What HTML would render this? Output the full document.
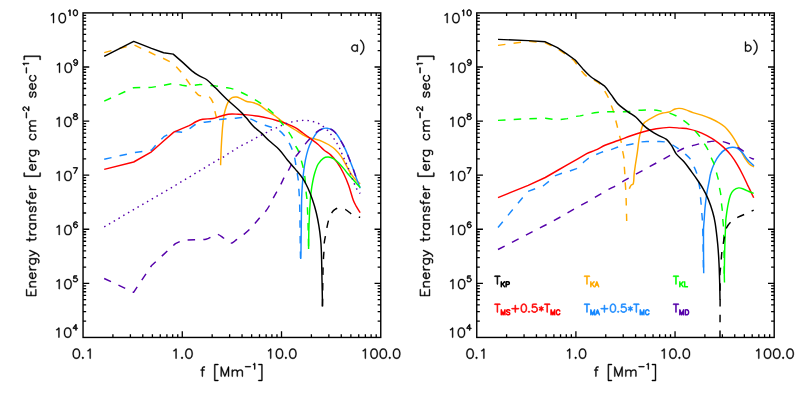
<!DOCTYPE html><html><head><meta charset="utf-8"><title>Energy transfer</title><style>html,body{margin:0;padding:0;background:#fff;font-family:"Liberation Sans",sans-serif}svg{display:block}</style></head><body><svg width="800" height="393" viewBox="0 0 800 393"><defs><path id="g41" d="M3,-26 2.4,-25.8 2,-25 2.2,-24.2 4.6,-21.9 6.1,-19.6 8.1,-15.5 9,-11.1 9,-6.9 8.1,-2.5 6.1,1.6 4.6,3.9 2.2,6.2 2,7 2.4,7.8 3,8 3.8,7.8 5.8,5.8 8,2.4 9.9,-1.4 11,-6.6 11,-11.4 9.9,-16.6 8,-20.4 5.8,-23.8 3.8,-25.8Z"/><path id="g42" d="M8,-16 7.4,-15.8 7,-15 6.9,-10.9 3,-13 2.4,-12.8 2,-12 2.5,-11.1 6,-9 2.5,-6.9 2,-6 2.2,-5.4 3,-5 3.5,-5.1 6.9,-7.1 7,-3 7.2,-2.4 8,-2 8.6,-2.2 9,-3 9.1,-7.1 13,-5 13.6,-5.2 14,-6 13.5,-6.9 10,-9 13.5,-11.1 14,-12 13.8,-12.6 13,-13 12.5,-12.9 9.1,-10.9 9,-15 8.8,-15.6Z"/><path id="g43" d="M13,-19 12.4,-18.8 12,-18 12,-10.1 4,-10 3.4,-9.8 3,-9 3.2,-8.4 4,-8 11.9,-8 12,0 12.2,0.6 13,1 13.6,0.8 14,0 14,-7.9 22,-8 22.6,-8.2 23,-9 22.8,-9.6 22,-10 14.1,-10 14,-18 13.8,-18.6Z"/><path id="g45" d="M3,-9 3.2,-8.4 4,-8 22,-8 22.6,-8.2 23,-9 22.8,-9.6 22,-10 4,-10 3.4,-9.8Z"/><path id="g46" d="M5,-3 4.2,-2.8 3.2,-1.8 3,-1 3.2,-0.2 4.2,0.8 5,1 5.8,0.8 6.8,-0.2 7,-1 6.8,-1.8 5.8,-2.8Z"/><path id="g48" d="M8.6,-22 5.6,-21 3,-17.2 2,-12.4 2,-8.6 3,-3.8 5.1,-0.5 5.6,0 8.6,1 11.4,1 14.4,0 17,-3.8 18,-8.6 18,-12.4 17,-17.2 14.9,-20.5 14.4,-21 11.4,-22ZM9.1,-20 10.9,-20 13.1,-19.2 13.6,-18.9 15.1,-16.5 16,-12.1 16,-8.9 15.1,-4.5 13.4,-1.9 10.9,-1 9.1,-1 6.9,-1.8 6.4,-2.1 4.9,-4.5 4,-8.9 4,-12.1 4.9,-16.5 6.6,-19.1Z"/><path id="g49" d="M11,-22 10.2,-21.8 7.2,-18.8 5.6,-18 5,-17 5.4,-16.2 6,-16 6.6,-16.1 8.4,-17 9.9,-18.4 10,-18.2 10,0 10.2,0.6 11,1 11.6,0.8 12,0 12,-21 11.8,-21.6Z"/><path id="g50" d="M7.4,-21.9 5.2,-20.8 4,-19.4 3,-17 3,-16 3.4,-15.2 4,-15 4.6,-15.2 5,-16 5,-16.8 5.8,-18.2 6.8,-19.2 8.2,-20 11.8,-20 13.2,-19.2 14.2,-18.2 15,-16.8 15,-15.2 14.1,-13.4 12.6,-11.1 2.2,-0.8 2,0 2.4,0.8 3,1 17.4,0.9 17.8,0.6 18,0 17.8,-0.6 17,-1 5.6,-1.1 13.8,-9.2 16,-12.6 17,-15 16.9,-17.6 15.8,-19.8 14.8,-20.8 12,-22Z"/><path id="g52" d="M13,-22 12.1,-21.6 2.1,-7.6 2,-7 2.2,-6.4 3,-6 11.9,-6 12,0 12.2,0.6 13,1 13.6,0.8 14,0 14,-5.9 18,-6 18.6,-6.2 19,-7 18.8,-7.6 18,-8 14,-8.1 14,-21 13.8,-21.6ZM11.9,-17.6 12,-8.1 5.2,-8 5.1,-8.2Z"/><path id="g53" d="M4.6,-21.9 4.2,-21.6 3.9,-20.5 3,-12.6 3.2,-11.4 4,-11 4.8,-11.2 5.9,-12.2 8.1,-13 10.9,-13 13.1,-12.2 15.2,-10.1 16,-7.9 16,-6.1 15.1,-3.6 13.4,-1.9 10.9,-1 8.1,-1 5.6,-1.9 4.8,-2.8 4,-4.4 3,-5 2.2,-4.6 2,-4 2.1,-3.4 3.2,-1.2 4.2,-0.2 7.6,1 11.4,1 14.4,0 17,-2.6 18,-5.6 18,-8.4 17,-11.4 14.4,-14 11.4,-15 7.6,-15 5.4,-14.2 5.2,-14.6 6,-20 15,-20 15.8,-20.4 16,-21 15.6,-21.8 15,-22Z"/><path id="g54" d="M9.6,-22 6.6,-21 4,-17.2 3,-12.4 3,-6.6 4.2,-2.2 6.2,-0.2 9.6,1 11.4,1 14.4,0 16.8,-2.2 18,-5.6 18,-7.4 17,-10.4 14.4,-13 11.4,-14 9.6,-14 6.6,-13 5.1,-11.6 5,-11.8 5.9,-16.5 7.4,-18.9 7.9,-19.2 10.1,-20 11.9,-20 14.1,-19.2 15,-17.6 15.6,-17.1 16.4,-17.1 16.9,-17.6 16.9,-18.6 16,-20.4 15.4,-21 12.4,-22ZM10.1,-12 10.9,-12 13.4,-11.1 15.1,-9.4 16,-6.9 16,-6.1 15.1,-3.6 13.4,-1.9 10.9,-1 10.1,-1 7.6,-1.9 5.9,-3.6 5.1,-6.5 5.1,-7.2 5.9,-9.4 7.6,-11.1Z"/><path id="g55" d="M17.4,-21.9 3,-22 2.4,-21.8 2,-21 2.2,-20.4 3,-20 15.4,-19.9 6.1,-0.5 6.1,0.4 6.6,0.9 7.4,0.9 8,0.2 17.2,-19.1 18,-21 17.8,-21.6Z"/><path id="g56" d="M7.6,-22 4.6,-21 4,-20.4 3.1,-18.6 3.1,-15.4 4,-13.6 4.6,-13 6.1,-12.2 5.2,-11.8 3.2,-9.8 2.1,-7.6 2.1,-3.4 3.2,-1.2 4.6,0 7.6,1 12.4,1 15.8,-0.2 16.8,-1.2 17.9,-3.4 17.9,-7.6 16.8,-9.8 14.8,-11.8 13.9,-12.2 15.4,-13 16,-13.6 16.9,-15.4 16.9,-18.6 16,-20.4 15.4,-21 12.4,-22ZM6.6,-10.1 10,-11.2 13.4,-10.1 15.2,-8.2 16,-6.8 16,-4.2 15.2,-2.8 14.4,-1.9 11.9,-1 8.1,-1 5.6,-1.9 4.8,-2.8 4,-4.2 4,-6.8 4.8,-8.2ZM5,-17.8 5.9,-19.2 8.1,-20 11.9,-20 14.4,-19 15,-17.8 15,-16.2 14,-14.6 12.5,-13.9 10,-13.2 7.5,-13.9 6,-14.6 5,-16.2Z"/><path id="g57" d="M8.6,-22 5.6,-21 3.2,-18.8 2,-15.4 2,-13.6 3,-10.6 5.6,-8 8.6,-7 10.4,-7 13.4,-8 14.9,-9.4 15,-9.2 14.1,-4.5 12.6,-2.1 12.1,-1.8 9.9,-1 8.1,-1 5.9,-1.8 5,-3.4 4.4,-3.9 3.6,-3.9 3.1,-3.4 3.1,-2.4 4,-0.6 4.6,0 7.6,1 10.4,1 13.4,0 16,-3.8 17,-8.6 17,-14.4 15.8,-18.8 13.8,-20.8 10.4,-22ZM9.1,-20 9.9,-20 12.4,-19.1 14.1,-17.4 14.9,-14.5 14.9,-13.8 14.1,-11.6 12.4,-9.9 9.9,-9 9.1,-9 6.6,-9.9 4.9,-11.6 4,-14.1 4,-14.9 4.9,-17.4 6.6,-19.1Z"/><path id="g65" d="M9.4,-21.9 9,-22 8.4,-21.8 7.6,-20.4 0,0 0.2,0.6 0.6,0.9 1.4,0.9 2,0.2 3.9,-4.9 4.5,-6 13.5,-6 13.9,-5.5 16.2,0.6 17,1 17.6,0.8 18,0 17.8,-1 10,-21.2ZM9,-18.1 12.9,-8.1 12.8,-8 5.1,-8.1Z"/><path id="g67" d="M9,-22 6.2,-20.8 4.2,-18.8 3,-16.4 2,-13.4 2,-7.6 3,-4.6 4,-2.6 6.2,-0.2 9,1 13,1 15.8,-0.2 17.8,-2.2 18.9,-4.4 18.9,-5.4 18.6,-5.8 18,-6 17.4,-5.8 16.2,-3.8 14.2,-1.8 12.8,-1 9.2,-1 7.8,-1.8 5.8,-3.8 4.9,-5.5 4,-8.1 4,-12.9 4.9,-15.5 5.8,-17.2 7.8,-19.2 9.2,-20 12.8,-20 14.2,-19.2 16.2,-17.2 17,-15.6 18,-15 18.6,-15.2 19,-16 17.8,-18.8 15.4,-21 13,-22Z"/><path id="g68" d="M3.6,-21.9 3.2,-21.6 3,-21 3.1,0.4 3.4,0.8 4,1 11.4,1 14.4,0 17,-2.6 18,-4.6 19,-7.6 19,-13.4 18,-16.4 16.8,-18.8 14.4,-21 11.4,-22ZM5.1,-20 10.9,-20 13.1,-19.2 15.2,-17.2 16.1,-15.5 17,-12.9 17,-8.1 16.1,-5.5 15.2,-3.8 13.1,-1.8 10.9,-1 5,-1.1Z"/><path id="g69" d="M3.4,-21.8 3,-21 3,0 3.2,0.6 4,1 17,1 17.6,0.8 18,0 17.6,-0.8 17,-1 5,-1.1 5,-9.9 12,-10 12.6,-10.2 13,-11 12.8,-11.6 12,-12 5,-12.1 5,-19.9 17,-20 17.6,-20.2 18,-21 17.8,-21.6 17,-22 4,-22Z"/><path id="g75" d="M3.4,-21.8 3,-21 3,0 3.2,0.6 4,1 4.8,0.6 5,0 5,-6.5 8.9,-10.4 16.9,0.2 18,1 18.6,0.8 19,0 18.8,-0.8 10.4,-11.9 18.8,-20.2 19,-21 18.8,-21.6 18,-22 17.2,-21.8 5.1,-9.6 5,-21 4.8,-21.6 4,-22Z"/><path id="g76" d="M3.4,-21.8 3,-21 3,0 3.2,0.6 4,1 16,1 16.6,0.8 17,0 16.6,-0.8 16,-1 5,-1.1 5,-21 4.8,-21.6 4,-22Z"/><path id="g77" d="M3.4,-21.8 3,-21 3,0 3.2,0.6 4,1 4.8,0.6 5,0 5,-15 5.2,-15 10.9,0 11.4,0.8 12,1 12.6,0.8 13.1,0 18.9,-15.1 19,0 19.2,0.6 20,1 20.6,0.8 21,0 21,-21 20.8,-21.6 20,-22 19.4,-21.8 18.9,-21 12,-2.9 5.1,-21 4.4,-21.9 4,-22Z"/><path id="g80" d="M16.4,-21 13.4,-22 4,-22 3.2,-21.6 3,-21 3,0 3.4,0.8 4,1 4.8,0.6 5,0 5.1,-9 13.4,-9 16.4,-10 18,-11.6 19,-14 19,-17 18,-19.4ZM5,-19.9 12.9,-20 15.4,-19.1 16.2,-18.2 17,-16.8 17,-14.2 16.2,-12.8 15.4,-11.9 12.9,-11 5.1,-11Z"/><path id="g83" d="M7.6,-22 4.6,-21 2.2,-18.8 2,-18 2.1,-15.4 3.2,-13.2 4.6,-12 6.6,-11 12.5,-9.1 14.2,-8.2 15.2,-7.2 16,-5.8 16,-3.5 14.4,-1.9 11.9,-1 8.1,-1 5.9,-1.8 3.8,-3.8 3,-4 2.4,-3.8 2,-3 2.2,-2.2 4.6,0 7.6,1 12.4,1 15.4,0 17.8,-2.2 18,-3 17.9,-6.6 16.8,-8.8 15.4,-10 13.4,-11 7.5,-12.9 5.8,-13.8 4.8,-14.8 4,-16.2 4,-17.5 5.6,-19.1 8.1,-20 11.9,-20 14.1,-19.2 16.2,-17.2 17,-17 17.6,-17.2 18,-18 17.8,-18.8 15.4,-21 12.4,-22Z"/><path id="g84" d="M15,-22 1,-22 0.4,-21.8 0,-21 0.2,-20.4 1,-20 7,-19.9 7,0 7.2,0.6 8,1 8.6,0.8 9,0 9,-19.9 15.4,-20.1 15.8,-20.4 16,-21 15.8,-21.6Z"/><path id="g91" d="M4,-26 3.4,-25.8 3,-25 3,7 3.2,7.6 4,8 11,8 11.6,7.8 12,7 11.8,6.4 11.4,6.1 5,5.9 5,-23.9 11,-24 11.6,-24.2 12,-25 11.8,-25.6 11,-26Z"/><path id="g93" d="M3,-26 2.4,-25.8 2,-25 2.2,-24.4 2.6,-24.1 9,-23.9 9,5.9 3,6 2.4,6.2 2,7 2.2,7.6 3,8 10,8 10.6,7.8 11,7 11,-25 10.8,-25.6 10,-26Z"/><path id="g97" d="M5.2,-13.8 3,-11.4 2,-8.4 2,-5.6 3.2,-2.2 5.2,-0.2 7.4,0.9 11,1 11.6,0.9 13.9,-0.4 14.4,0.8 15,1 15.6,0.8 16,0 16,-14 15.8,-14.6 15,-15 14.4,-14.8 13.9,-13.6 11.6,-14.9 8,-15ZM8.2,-13 10.8,-13 12.2,-12.2 14,-10.5 14,-3.5 12.2,-1.8 10.8,-1 8.2,-1 6.8,-1.8 4.9,-3.6 4,-6.1 4,-7.9 4.9,-10.4 6.8,-12.2Z"/><path id="g98" d="M3.2,-21.6 3,-21 3.1,0.4 3.6,0.9 4.4,0.9 4.8,0.6 5.1,-0.4 7.4,0.9 8,1 11.6,0.9 13.8,-0.2 16,-2.6 17,-5.6 17,-8.4 16,-11.4 13.8,-13.8 11.6,-14.9 8,-15 7.4,-14.9 5.1,-13.6 5,-21 4.6,-21.8 4,-22ZM8.2,-13 10.8,-13 12.2,-12.2 14.1,-10.4 15,-7.9 15,-6.1 14.1,-3.6 12.2,-1.8 10.8,-1 8.2,-1 6.8,-1.8 5,-3.5 5,-10.5 6.8,-12.2Z"/><path id="g99" d="M7.4,-14.9 5.2,-13.8 3,-11.4 2,-8.4 2,-5.6 3,-2.6 5.2,-0.2 8,1 11.6,0.9 13.8,-0.2 15.8,-2.2 16,-3 15.8,-3.6 15,-4 14.2,-3.8 12.2,-1.8 10.8,-1 8.2,-1 6.8,-1.8 4.9,-3.6 4,-6.1 4,-7.9 4.8,-10.1 6.8,-12.2 8.2,-13 10.8,-13 12.2,-12.2 14.2,-10.2 15,-10 15.6,-10.2 16,-11 15.8,-11.8 13.8,-13.8 11.6,-14.9Z"/><path id="g101" d="M7.4,-14.9 5.2,-13.8 3,-11.4 2,-8.4 2,-5.6 3,-2.6 5.2,-0.2 8,1 11.6,0.9 13.8,-0.2 15.8,-2.2 16,-3 15.8,-3.6 15,-4 14.2,-3.8 12.2,-1.8 10.8,-1 8.2,-1 6.8,-1.8 4.9,-3.6 4,-6.1 4,-6.9 15,-7 15.6,-7.2 16,-8 15.9,-10.6 14.8,-12.8 13.4,-14 11,-15ZM4.5,-9.4 4.9,-10.4 6.8,-12.2 8.2,-13 10.8,-13 12.2,-12.2 13.2,-11.2 14,-9.8 13.9,-9 4.6,-9Z"/><path id="g102" d="M10,-22 7.4,-21.9 5.6,-21 5,-20.4 4,-17.4 4,-15.1 1.6,-14.9 1.2,-14.6 1,-14 1.2,-13.4 1.6,-13.1 4,-12.9 4,0 4.2,0.6 5,1 5.6,0.8 6,0 6,-12.9 9,-13 9.6,-13.2 10,-14 9.8,-14.6 9,-15 6.1,-15 6,-16.9 7,-19.4 8.2,-20 10,-20 10.8,-20.4 11,-21 10.6,-21.8Z"/><path id="g103" d="M15,-15 14.2,-14.6 13.9,-13.6 11.6,-14.9 11,-15 7.4,-14.9 5.2,-13.8 3,-11.4 2,-8.4 2,-5.6 3.2,-2.2 5.2,-0.2 8,1 11.6,0.9 13.9,-0.4 14,-0.2 14,1.9 13.1,4.4 12.2,5.2 10.8,6 8.2,6 6,5 5.2,5.4 5,6 5.2,6.6 7.4,7.9 11.6,7.9 13.8,6.8 15,5.4 16,2.4 16,-14 15.8,-14.6ZM8.2,-13 10.8,-13 12.2,-12.2 14,-10.5 14,-3.5 12.2,-1.8 10.8,-1 8.2,-1 6.8,-1.8 4.9,-3.6 4,-6.1 4,-7.9 4.9,-10.4 6.8,-12.2Z"/><path id="g109" d="M3.2,-14.6 3,-14 3,0 3.4,0.8 4,1 4.8,0.6 5,0 5,-9.5 7.8,-12.2 9.2,-13 11.8,-13 13.2,-12.1 14,-9.9 14,0 14.2,0.6 15,1 15.6,0.8 16,0 16,-9.5 18.8,-12.2 20.2,-13 22.8,-13 24,-12.4 25,-9.9 25,0 25.2,0.6 26,1 26.8,0.6 27,0 27,-10.4 26,-13.4 25.4,-14 23,-15 19.4,-14.9 17.2,-13.8 15.5,-12 15,-13.4 14.4,-14 12.6,-14.9 8.4,-14.9 6.2,-13.8 5.1,-12.6 4.8,-14.6 4,-15Z"/><path id="g110" d="M3.4,-14.8 3,-14 3,0 3.2,0.6 4,1 4.8,0.6 5,0 5,-9.5 7.8,-12.2 9.2,-13 11.8,-13 13.2,-12.1 14,-9.9 14,0 14.2,0.6 15,1 15.6,0.8 16,0 16,-10.4 15,-13.4 14.4,-14 12.6,-14.9 9,-15 6.6,-14 5.1,-12.6 4.8,-14.6 4,-15Z"/><path id="g114" d="M12.6,-14.8 12,-15 8.4,-14.9 6.2,-13.8 5.1,-12.6 4.8,-14.6 4,-15 3.2,-14.6 3,-14 3,0 3.4,0.8 4,1 4.8,0.6 5,0 5,-7.9 5.9,-10.4 7.8,-12.2 9.2,-13 12,-13 12.6,-13.2 13,-14Z"/><path id="g115" d="M3.6,-14 3,-13.4 2,-11 3,-8.6 3.6,-8 5.4,-7.1 10.5,-6.1 12,-5.4 13,-3.8 13,-3.2 12.1,-1.8 9.9,-1 7.1,-1 4.9,-1.8 4,-3.4 3,-4 2.4,-3.8 2,-3 3,-0.6 3.6,0 6.6,1 10.4,1 13.4,0 14,-0.6 15,-3 14.9,-4.6 14,-6.4 13.4,-7 11.6,-7.9 6.5,-8.9 5,-9.6 4.1,-11 4.9,-12.2 7.1,-13 9.9,-13 12.1,-12.2 13,-10.6 14,-10 14.6,-10.2 15,-11 14,-13.4 13.4,-14 10.4,-15 6.6,-15Z"/><path id="g116" d="M5,-22 4.4,-21.8 4,-21 4,-15.1 1.6,-14.9 1.2,-14.6 1,-14 1.2,-13.4 1.6,-13.1 4,-12.9 4,-3.6 5,-0.6 5.6,0 7.4,0.9 10,1 10.6,0.8 11,0 10.8,-0.6 10,-1 8.2,-1 7,-1.6 6,-4.1 6,-12.9 9,-13 9.6,-13.2 10,-14 9.8,-14.6 9,-15 6,-15.1 6,-21 5.8,-21.6Z"/><path id="g121" d="M14.6,-14.8 14,-15 13.4,-14.8 13,-14.2 8,-2.6 3,-14.2 2.6,-14.8 2,-15 1.2,-14.6 1,-14 1.2,-13.1 6.9,0 5.2,3.2 3.2,5.2 1.8,6 1,6 0.2,6.4 0,7 0.4,7.8 1,8 2,8 4.4,7 7,4.4 8.9,0.6 14.8,-13.1 15,-14Z"/></defs><rect width="800" height="393" fill="#fff"/><path d="M104.2,52.6 L133.7,44.7 L142.0,48.7 L148.3,51.5 L156.0,55.4 L163.0,58.2 L170.0,61.7 L176.3,66.8 L181.4,72.5 L186.5,79.5 C187.9,81.4 189.2,83.5 190.6,85.4 C192.2,87.6 193.8,89.9 195.5,92.0 C196.5,93.2 197.6,94.5 198.9,95.4 C199.4,95.8 200.2,95.7 200.8,95.8 C202.2,95.9 203.6,95.8 205.0,96.0 C206.4,96.1 208.0,95.8 209.1,96.7 C210.9,98.1 212.0,100.3 212.9,102.4 C214.0,105.0 214.1,107.9 214.8,110.7 C215.3,113.0 215.9,115.4 216.5,117.7" fill="none" stroke="#FFAA00" stroke-width="1.45" stroke-linejoin="round" stroke-dasharray="7.5 8.22"/>
<path d="M220.6,165.3 C220.8,159.6 220.9,153.9 221.2,148.2 C221.5,141.8 221.9,135.5 222.4,129.1 C222.7,125.6 223.0,122.0 223.5,118.5 C223.9,115.9 224.3,113.2 225.0,110.7 C225.9,107.7 226.7,104.6 228.2,101.8 C229.1,100.2 230.4,98.6 232.0,97.7 C233.3,96.9 234.9,96.9 236.4,97.0 C238.0,97.2 239.4,98.0 240.9,98.6 C242.6,99.4 244.2,100.6 246.0,101.2 C248.5,102.0 251.1,102.1 253.6,102.8 C255.6,103.4 257.5,104.0 259.3,105.0 C261.8,106.4 263.9,108.5 266.3,110.1 C268.8,111.9 271.5,113.4 274.0,115.2 C276.1,116.7 278.0,118.3 280.0,119.8 C282.5,121.6 285.0,123.4 287.6,125.1 C290.1,126.8 292.7,128.4 295.3,130.0 C297.8,131.6 300.3,133.4 302.9,134.8 C305.0,135.9 307.1,136.9 309.3,137.7 C311.3,138.4 313.5,138.6 315.6,139.2 C317.8,139.8 319.9,140.4 322.0,141.3 C324.2,142.2 326.3,143.3 328.3,144.5 C330.5,145.9 332.8,147.2 334.7,149.0 C337.1,151.2 339.2,153.7 341.1,156.4 C343.1,159.2 344.5,162.3 346.2,165.3 C347.9,168.3 349.3,171.4 351.2,174.2 C352.7,176.5 354.4,178.5 356.3,180.5 C357.5,181.7 358.9,182.6 360.2,183.7" fill="none" stroke="#FFAA00" stroke-width="1.45" stroke-linejoin="round"/>
<path d="M104.2,159.2 L133.7,152.7 L151.5,150.2 L156.0,144.8 L163.9,136.7 L173.5,131.5 L182.2,132.2 L188.8,129.2 C191.1,127.8 193.0,125.7 195.4,124.5 C197.7,123.4 200.2,123.0 202.7,122.5 C205.2,122.0 207.9,122.0 210.4,121.5 C213.4,121.0 216.3,120.0 219.3,119.5 C221.8,119.1 224.4,118.9 226.9,118.7 C229.4,118.5 232.0,118.5 234.5,118.3 C237.1,118.1 239.6,117.5 242.2,117.6 C244.8,117.7 247.3,118.0 249.8,118.7 C252.5,119.5 254.9,121.0 257.4,122.1 C260.0,123.2 262.5,124.4 265.1,125.3 C267.6,126.2 270.2,126.7 272.7,127.6 C274.9,128.4 277.2,129.1 279.1,130.4 C281.3,131.9 283.2,134.0 284.8,136.1 C286.8,138.7 288.4,141.5 289.9,144.4 C290.8,146.1 291.5,147.8 292.1,149.6 C293.0,152.2 293.9,154.9 294.6,157.6 C295.2,160.1 295.5,162.7 295.9,165.3 C296.3,167.8 296.8,170.4 297.2,172.9 C297.6,175.7 298.1,178.4 298.4,181.2 C298.7,183.7 298.7,186.3 298.8,188.8 C299.0,191.3 299.2,193.9 299.3,196.4 C299.5,200.9 299.7,205.5 299.8,210.0 C300.0,220.0 300.1,230.0 300.2,240.0 C300.3,246.0 300.4,252.0 300.5,258.0" fill="none" stroke="#1688FF" stroke-width="1.45" stroke-linejoin="round" stroke-dasharray="7.5 8.22"/>
<path d="M300.7,258.9 C300.8,255.8 301.0,252.7 301.0,249.6 C301.3,233.1 301.3,216.5 301.6,200.0 C301.7,195.2 302.0,190.4 302.3,185.6 C302.6,181.4 303.0,177.1 303.5,172.9 C304.0,168.7 304.6,164.4 305.4,160.2 C306.1,156.6 306.9,153.1 308.0,149.6 C309.0,146.5 310.3,143.6 311.8,140.7 C313.3,137.8 314.8,134.8 316.9,132.4 C318.2,130.9 320.1,129.8 322.0,129.0 C323.6,128.3 325.4,128.0 327.1,128.2 C328.9,128.4 330.7,128.9 332.2,129.9 C334.2,131.2 335.9,133.1 337.3,135.0 C339.2,137.6 340.7,140.5 342.3,143.3 C343.5,145.4 344.5,147.5 345.5,149.6 C346.9,152.7 348.1,155.8 349.3,158.9 C350.6,162.3 351.9,165.7 353.2,169.1 C354.3,172.0 355.2,175.1 356.3,178.0 C357.6,181.4 358.9,184.8 360.2,188.2" fill="none" stroke="#1688FF" stroke-width="1.45" stroke-linejoin="round"/>
<path d="M104.2,169.4 L133.7,162.0 L151.5,151.8 L163.6,141.0 L173.8,132.1 L181.4,128.9 L189.1,125.7 C191.6,124.5 193.9,122.7 196.4,121.5 C198.4,120.5 200.5,119.6 202.7,119.2 C206.1,118.6 209.5,119.1 212.9,118.5 C215.5,118.1 218.0,116.9 220.5,116.2 C223.1,115.5 225.6,114.5 228.2,114.2 C231.5,113.8 234.9,114.1 238.3,114.2 C241.3,114.3 244.3,114.6 247.3,114.9 C251.1,115.3 254.9,115.7 258.7,116.3 C262.1,116.9 265.5,117.6 268.9,118.4 C272.3,119.2 275.7,120.3 279.1,121.3 C282.0,122.2 284.8,123.0 287.6,124.1 C290.2,125.1 292.9,126.3 295.3,127.7 C298.0,129.3 300.4,131.2 302.9,133.0 C305.5,134.9 308.0,136.8 310.5,138.7 C313.1,140.6 315.7,142.4 318.2,144.5 C320.2,146.2 321.9,148.3 323.9,150.0 C326.1,151.8 328.8,153.1 330.9,155.1 C333.3,157.4 335.4,160.0 337.3,162.7 C339.7,166.1 341.7,169.8 343.6,173.5 C345.6,177.4 347.2,181.5 348.7,185.6 C350.4,190.3 351.5,195.3 353.2,200.0 C354.0,202.2 355.2,204.3 356.3,206.4 C357.5,208.6 358.9,210.6 360.2,212.7" fill="none" stroke="#FF0000" stroke-width="1.45" stroke-linejoin="round"/>
<path d="M104.2,101.1 L133.7,87.7 L151.5,87.4 L163.9,85.2 L173.5,83.4 L182.2,85.2 L188.8,86.4 C190.9,86.4 192.9,85.6 195.0,85.2 C196.7,84.9 198.3,84.5 200.0,84.5 C202.7,84.5 205.3,85.0 208.0,85.2 C210.5,85.4 212.9,85.6 215.4,85.9 C218.3,86.3 221.1,86.8 224.0,87.3 C227.1,87.9 230.3,88.1 233.3,89.1 C238.1,90.8 242.8,93.0 247.3,95.4 C252.1,97.9 256.8,100.6 261.2,103.7 C265.7,106.8 270.0,110.2 274.0,113.9 C276.3,116.0 278.0,118.6 280.0,121.0 C281.1,122.3 282.2,123.5 283.2,124.8 C285.1,127.3 287.1,129.8 288.9,132.4 C290.3,134.5 291.6,136.6 292.7,138.8 C293.9,141.3 294.7,143.9 295.9,146.4 C296.4,147.5 297.3,148.5 297.8,149.6 C298.7,151.7 299.3,153.9 300.0,156.0 C300.6,157.8 301.1,159.7 301.6,161.5 C302.3,164.0 303.0,166.5 303.5,169.1 C304.0,171.6 304.5,174.2 304.8,176.7 C305.1,178.8 305.2,181.0 305.4,183.1 C305.7,186.1 305.8,189.0 306.1,192.0 C306.3,194.5 306.8,197.1 307.0,199.6 C307.4,204.7 307.5,209.9 307.7,215.0 C307.9,220.0 308.1,225.0 308.2,230.0 C308.4,236.3 308.5,242.7 308.6,249.0" fill="none" stroke="#00FF00" stroke-width="1.45" stroke-linejoin="round" stroke-dasharray="7.5 8.22"/>
<path d="M308.6,249.0 C308.7,241.1 308.7,233.3 309.0,225.4 C309.3,216.9 309.7,208.5 310.3,200.0 C310.6,195.6 311.1,191.2 311.8,186.9 C312.5,182.6 313.2,178.4 314.4,174.2 C315.4,170.7 316.4,167.2 318.2,164.0 C319.4,161.8 321.2,159.8 323.3,158.3 C324.7,157.3 326.6,156.9 328.3,157.0 C330.1,157.1 331.8,157.8 333.4,158.7 C335.3,159.8 336.9,161.2 338.5,162.7 C340.3,164.5 342.0,166.5 343.6,168.4 C345.4,170.5 346.9,172.7 348.7,174.8 C350.3,176.7 352.1,178.6 353.8,180.5 C355.9,182.8 358.1,185.2 360.2,187.5" fill="none" stroke="#00FF00" stroke-width="1.45" stroke-linejoin="round"/>
<path d="M104.2,226.8 L171.6,187.6 L218.6,159.4 C220.1,158.5 221.8,158.0 223.3,157.1 C224.9,156.1 226.3,154.9 227.9,153.9 C229.4,152.9 231.0,152.0 232.6,151.0 C234.2,150.0 235.7,148.9 237.3,147.9 C238.9,146.9 240.5,146.1 242.2,145.2 C243.8,144.4 245.4,143.6 247.0,142.8 C248.7,141.9 250.4,141.1 252.0,140.2 C253.6,139.3 255.2,138.3 256.8,137.4 C258.5,136.5 260.2,135.7 261.9,134.8 C263.5,134.0 265.1,133.1 266.7,132.3 C268.4,131.4 270.1,130.5 271.8,129.7 C273.5,128.9 275.2,128.3 276.9,127.6 C278.6,126.9 280.2,126.0 281.9,125.3 C283.5,124.6 285.2,124.0 286.9,123.4 C288.6,122.8 290.3,122.3 292.1,121.9 C293.8,121.5 295.5,121.2 297.2,121.0 C299.1,120.7 301.0,120.5 302.9,120.4 C304.8,120.3 306.7,120.3 308.6,120.6 C310.5,120.9 312.3,121.4 314.1,121.9 C315.8,122.4 317.6,123.0 319.2,123.8 C320.9,124.7 322.4,125.8 323.9,127.0 C325.3,128.1 326.5,129.2 327.7,130.5 C328.9,131.8 330.0,133.2 331.1,134.6 C332.2,136.1 333.3,137.6 334.3,139.2 C335.3,140.7 336.4,142.3 337.3,143.9 C338.2,145.4 339.0,147.0 339.8,148.6 C340.5,150.1 341.0,151.7 341.7,153.2 C342.5,155.1 343.4,157.0 344.2,158.9 C345.7,162.3 347.3,165.7 348.7,169.1 C350.1,172.5 351.1,175.9 352.5,179.3 C353.9,182.7 355.2,186.2 357.0,189.4 C357.8,190.9 359.1,192.1 360.2,193.5" fill="none" stroke="#5500AA" stroke-width="1.45" stroke-linejoin="round" stroke-dasharray="1.5 4.0"/>
<path d="M104.2,278.5 L133.6,292.3 L151.6,265.5 L164.0,254.1 L175.4,243.6 L183.0,240.2 L194.5,239.8 C198.3,239.6 202.2,240.0 206.0,239.2 C208.5,238.7 210.7,237.0 213.0,236.0 C214.4,235.4 215.7,233.9 217.2,234.2 C219.6,234.7 221.5,236.6 223.5,238.0 C225.1,239.2 226.3,241.0 228.0,242.0 C229.2,242.7 230.7,243.4 232.0,243.0 C234.0,242.4 235.2,240.5 236.9,239.3 C239.2,237.6 241.7,236.2 243.9,234.4 C245.9,232.8 247.8,231.2 249.6,229.4 C251.6,227.4 253.4,225.2 255.3,223.0 C256.8,221.2 258.2,219.4 259.8,217.6 C261.6,215.5 263.8,213.7 265.5,211.5 C267.1,209.5 268.4,207.4 269.7,205.2 C271.0,202.9 272.0,200.5 273.2,198.2 C274.4,195.9 275.7,193.6 277.0,191.3 C278.3,189.0 279.6,186.7 280.8,184.4 C282.0,182.1 283.0,179.7 284.2,177.4 C285.5,175.0 287.1,172.8 288.4,170.4 C289.5,168.4 290.5,166.3 291.6,164.2 C292.9,161.8 293.9,159.3 295.4,157.0 C296.7,155.0 298.4,153.2 299.9,151.3 C301.8,148.9 303.5,146.3 305.4,143.9 C307.0,141.9 308.7,140.0 310.5,138.2 C312.6,136.0 314.5,133.7 316.9,131.8 C318.4,130.6 320.2,129.6 322.0,129.0 C323.6,128.4 325.4,128.0 327.1,128.2 C328.9,128.4 330.7,128.9 332.2,129.9 C334.2,131.2 335.9,133.1 337.3,135.0 C339.2,137.6 340.7,140.5 342.3,143.3 C343.5,145.4 344.5,147.5 345.5,149.6 C346.9,152.7 348.1,155.8 349.3,158.9 C350.6,162.3 351.9,165.7 353.2,169.1 C354.3,172.0 355.2,175.0 356.3,178.0 C357.1,180.1 357.9,182.2 358.7,184.3" fill="none" stroke="#5500AA" stroke-width="1.45" stroke-linejoin="round" stroke-dasharray="7.5 8.22"/>
<path d="M322.5,306.3 C322.5,304.2 322.6,302.1 322.6,300.0 C322.7,290.0 322.8,280.0 323.0,270.0 C323.1,266.0 323.3,262.0 323.5,258.0 C323.6,255.3 323.9,252.7 324.0,250.0 C324.1,247.5 324.0,245.1 324.3,242.6 C324.5,240.2 325.1,237.9 325.5,235.6 C326.0,232.6 326.5,229.6 327.1,226.7 C327.6,224.1 328.1,221.6 329.0,219.1 C329.8,216.7 330.9,214.3 332.2,212.1 C332.9,211.0 333.9,210.0 335.0,209.3 C336.0,208.6 337.3,208.1 338.5,207.9 C339.7,207.7 340.9,207.9 342.0,208.2 C343.2,208.5 344.4,208.9 345.5,209.5 C348.0,211.0 350.0,213.2 352.5,214.6 C354.9,215.9 357.6,216.5 360.2,217.4" fill="none" stroke="#000000" stroke-width="1.45" stroke-linejoin="round" stroke-dasharray="7.5 8.22"/>
<path d="M104.2,56.4 L133.7,41.4 L151.5,48.4 L163.6,52.8 L173.2,54.1 L182.7,62.4 L191.6,70.6 C193.9,72.5 196.4,74.2 198.9,75.7 C201.3,77.2 204.2,77.8 206.5,79.5 C209.8,81.9 212.5,85.0 215.4,87.8 C219.7,92.0 223.8,96.4 228.2,100.5 C232.3,104.4 236.8,108.0 240.9,112.0 C242.7,113.7 244.3,115.7 246.0,117.6 C248.6,120.5 250.9,123.7 253.6,126.5 C255.9,128.8 258.8,130.7 261.2,132.9 C263.9,135.3 266.2,138.1 268.9,140.5 C272.2,143.6 276.0,146.1 279.1,149.4 C282.3,152.7 284.7,156.7 287.6,160.2 C290.1,163.2 292.8,166.1 295.3,169.1 C297.9,172.2 300.7,175.2 302.9,178.6 C304.9,181.6 306.5,184.9 308.0,188.2 C309.7,191.9 311.1,195.7 312.4,199.6 C313.9,203.9 315.2,208.3 316.3,212.7 C317.3,216.9 318.1,221.1 318.8,225.4 C319.5,229.6 320.1,233.9 320.5,238.2 C320.9,242.0 321.2,245.8 321.3,249.6 C321.7,259.7 321.8,269.9 322.0,280.0 C322.1,286.5 322.3,293.1 322.4,299.6 C322.4,301.9 322.4,304.2 322.4,306.5" fill="none" stroke="#000000" stroke-width="1.45" stroke-linejoin="round"/>
<rect x="83.05" y="12.90" width="297.70" height="324.55" fill="none" stroke="#000" stroke-width="1.40"/>
<path d="M112.92,337.45v-3.10M112.92,12.90v3.10M130.40,337.45v-3.10M130.40,12.90v3.10M142.79,337.45v-3.10M142.79,12.90v3.10M152.41,337.45v-3.10M152.41,12.90v3.10M160.27,337.45v-3.10M160.27,12.90v3.10M166.91,337.45v-3.10M166.91,12.90v3.10M172.67,337.45v-3.10M172.67,12.90v3.10M177.74,337.45v-3.10M177.74,12.90v3.10M182.28,337.45v-6.20M182.28,12.90v6.20M212.16,337.45v-3.10M212.16,12.90v3.10M229.63,337.45v-3.10M229.63,12.90v3.10M242.03,337.45v-3.10M242.03,12.90v3.10M251.64,337.45v-3.10M251.64,12.90v3.10M259.50,337.45v-3.10M259.50,12.90v3.10M266.15,337.45v-3.10M266.15,12.90v3.10M271.90,337.45v-3.10M271.90,12.90v3.10M276.98,337.45v-3.10M276.98,12.90v3.10M281.52,337.45v-6.20M281.52,12.90v6.20M311.39,337.45v-3.10M311.39,12.90v3.10M328.86,337.45v-3.10M328.86,12.90v3.10M341.26,337.45v-3.10M341.26,12.90v3.10M350.88,337.45v-3.10M350.88,12.90v3.10M358.74,337.45v-3.10M358.74,12.90v3.10M365.38,337.45v-3.10M365.38,12.90v3.10M371.13,337.45v-3.10M371.13,12.90v3.10M376.21,337.45v-3.10M376.21,12.90v3.10M83.05,321.17h3.10M380.75,321.17h-3.10M83.05,311.64h3.10M380.75,311.64h-3.10M83.05,304.88h3.10M380.75,304.88h-3.10M83.05,299.64h3.10M380.75,299.64h-3.10M83.05,295.36h3.10M380.75,295.36h-3.10M83.05,291.74h3.10M380.75,291.74h-3.10M83.05,288.60h3.10M380.75,288.60h-3.10M83.05,285.83h3.10M380.75,285.83h-3.10M83.05,283.36h6.20M380.75,283.36h-6.20M83.05,267.08h3.10M380.75,267.08h-3.10M83.05,257.55h3.10M380.75,257.55h-3.10M83.05,250.79h3.10M380.75,250.79h-3.10M83.05,245.55h3.10M380.75,245.55h-3.10M83.05,241.27h3.10M380.75,241.27h-3.10M83.05,237.65h3.10M380.75,237.65h-3.10M83.05,234.51h3.10M380.75,234.51h-3.10M83.05,231.74h3.10M380.75,231.74h-3.10M83.05,229.27h6.20M380.75,229.27h-6.20M83.05,212.98h3.10M380.75,212.98h-3.10M83.05,203.46h3.10M380.75,203.46h-3.10M83.05,196.70h3.10M380.75,196.70h-3.10M83.05,191.46h3.10M380.75,191.46h-3.10M83.05,187.18h3.10M380.75,187.18h-3.10M83.05,183.55h3.10M380.75,183.55h-3.10M83.05,180.42h3.10M380.75,180.42h-3.10M83.05,177.65h3.10M380.75,177.65h-3.10M83.05,175.17h6.20M380.75,175.17h-6.20M83.05,158.89h3.10M380.75,158.89h-3.10M83.05,149.37h3.10M380.75,149.37h-3.10M83.05,142.61h3.10M380.75,142.61h-3.10M83.05,137.37h3.10M380.75,137.37h-3.10M83.05,133.08h3.10M380.75,133.08h-3.10M83.05,129.46h3.10M380.75,129.46h-3.10M83.05,126.33h3.10M380.75,126.33h-3.10M83.05,123.56h3.10M380.75,123.56h-3.10M83.05,121.08h6.20M380.75,121.08h-6.20M83.05,104.80h3.10M380.75,104.80h-3.10M83.05,95.28h3.10M380.75,95.28h-3.10M83.05,88.52h3.10M380.75,88.52h-3.10M83.05,83.27h3.10M380.75,83.27h-3.10M83.05,78.99h3.10M380.75,78.99h-3.10M83.05,75.37h3.10M380.75,75.37h-3.10M83.05,72.23h3.10M380.75,72.23h-3.10M83.05,69.47h3.10M380.75,69.47h-3.10M83.05,66.99h6.20M380.75,66.99h-6.20M83.05,50.71h3.10M380.75,50.71h-3.10M83.05,41.18h3.10M380.75,41.18h-3.10M83.05,34.43h3.10M380.75,34.43h-3.10M83.05,29.18h3.10M380.75,29.18h-3.10M83.05,24.90h3.10M380.75,24.90h-3.10M83.05,21.28h3.10M380.75,21.28h-3.10M83.05,18.14h3.10M380.75,18.14h-3.10M83.05,15.38h3.10M380.75,15.38h-3.10" stroke="#000" stroke-width="1.3" fill="none"/>
<g transform="translate(83.05,358.30) scale(0.4600,0.4400)" fill="#000" stroke="#000" stroke-linejoin="round"><use href="#g48" x="-24.50" y="0.00" stroke-width="0.90"/><use href="#g46" x="-5.50" y="0.00" stroke-width="0.90"/><use href="#g49" x="4.50" y="0.00" stroke-width="0.90"/></g>
<g transform="translate(182.28,358.30) scale(0.4600,0.4400)" fill="#000" stroke="#000" stroke-linejoin="round"><use href="#g49" x="-24.50" y="0.00" stroke-width="0.90"/><use href="#g46" x="-5.50" y="0.00" stroke-width="0.90"/><use href="#g48" x="4.50" y="0.00" stroke-width="0.90"/></g>
<g transform="translate(281.52,358.30) scale(0.4600,0.4400)" fill="#000" stroke="#000" stroke-linejoin="round"><use href="#g49" x="-34.50" y="0.00" stroke-width="0.90"/><use href="#g48" x="-14.50" y="0.00" stroke-width="0.90"/><use href="#g46" x="4.50" y="0.00" stroke-width="0.90"/><use href="#g48" x="14.50" y="0.00" stroke-width="0.90"/></g>
<g transform="translate(380.75,358.30) scale(0.4600,0.4400)" fill="#000" stroke="#000" stroke-linejoin="round"><use href="#g49" x="-44.50" y="0.00" stroke-width="0.90"/><use href="#g48" x="-24.50" y="0.00" stroke-width="0.90"/><use href="#g48" x="-4.50" y="0.00" stroke-width="0.90"/><use href="#g46" x="14.50" y="0.00" stroke-width="0.90"/><use href="#g48" x="24.50" y="0.00" stroke-width="0.90"/></g>
<g transform="translate(77.70,337.25) scale(0.4600,0.4400)" fill="#000" stroke="#000" stroke-linejoin="round"><use href="#g49" x="-51.78" y="0.00" stroke-width="0.90"/><use href="#g48" x="-31.78" y="0.00" stroke-width="0.90"/><use href="#g52" transform="translate(-11.78,-16.00) scale(0.620)" stroke-width="2.58"/></g>
<g transform="translate(77.70,288.76) scale(0.4600,0.4400)" fill="#000" stroke="#000" stroke-linejoin="round"><use href="#g49" x="-51.16" y="0.00" stroke-width="0.90"/><use href="#g48" x="-31.16" y="0.00" stroke-width="0.90"/><use href="#g53" transform="translate(-11.16,-16.00) scale(0.620)" stroke-width="2.58"/></g>
<g transform="translate(77.70,234.67) scale(0.4600,0.4400)" fill="#000" stroke="#000" stroke-linejoin="round"><use href="#g49" x="-51.16" y="0.00" stroke-width="0.90"/><use href="#g48" x="-31.16" y="0.00" stroke-width="0.90"/><use href="#g54" transform="translate(-11.16,-16.00) scale(0.620)" stroke-width="2.58"/></g>
<g transform="translate(77.70,180.57) scale(0.4600,0.4400)" fill="#000" stroke="#000" stroke-linejoin="round"><use href="#g49" x="-51.16" y="0.00" stroke-width="0.90"/><use href="#g48" x="-31.16" y="0.00" stroke-width="0.90"/><use href="#g55" transform="translate(-11.16,-16.00) scale(0.620)" stroke-width="2.58"/></g>
<g transform="translate(77.70,126.48) scale(0.4600,0.4400)" fill="#000" stroke="#000" stroke-linejoin="round"><use href="#g49" x="-51.16" y="0.00" stroke-width="0.90"/><use href="#g48" x="-31.16" y="0.00" stroke-width="0.90"/><use href="#g56" transform="translate(-11.16,-16.00) scale(0.620)" stroke-width="2.58"/></g>
<g transform="translate(77.70,72.39) scale(0.4600,0.4400)" fill="#000" stroke="#000" stroke-linejoin="round"><use href="#g49" x="-50.54" y="0.00" stroke-width="0.90"/><use href="#g48" x="-30.54" y="0.00" stroke-width="0.90"/><use href="#g57" transform="translate(-10.54,-16.00) scale(0.620)" stroke-width="2.58"/></g>
<g transform="translate(77.70,22.70) scale(0.4600,0.4400)" fill="#000" stroke="#000" stroke-linejoin="round"><use href="#g49" x="-63.56" y="0.00" stroke-width="0.90"/><use href="#g48" x="-43.56" y="0.00" stroke-width="0.90"/><use href="#g49" transform="translate(-23.56,-16.00) scale(0.620)" stroke-width="2.58"/><use href="#g48" transform="translate(-11.16,-16.00) scale(0.620)" stroke-width="2.58"/></g>
<g transform="translate(231.90,376.20) scale(0.4600,0.4400)" fill="#000" stroke="#000" stroke-linejoin="round"><use href="#g102" x="-69.26" y="0.00" stroke-width="0.90"/><use href="#g91" transform="translate(-41.26,1.80) scale(1.000,1.130)" stroke-width="0.90"/><use href="#g77" x="-27.26" y="0.00" stroke-width="0.90"/><use href="#g109" x="-3.26" y="0.00" stroke-width="0.90"/><use href="#g45" transform="translate(26.74,-16.00) scale(0.620)" stroke-width="2.58"/><use href="#g49" transform="translate(42.86,-16.00) scale(0.620)" stroke-width="2.58"/><use href="#g93" transform="translate(55.26,1.80) scale(1.000,1.130)" stroke-width="0.90"/></g>
<g transform="translate(35.85,175.97) rotate(-90) scale(0.4610,0.4400)" fill="#000" stroke="#000" stroke-linejoin="round"><use href="#g69" x="-263.52" y="0.00" stroke-width="0.90"/><use href="#g110" x="-244.52" y="0.00" stroke-width="0.90"/><use href="#g101" x="-225.52" y="0.00" stroke-width="0.90"/><use href="#g114" x="-207.52" y="0.00" stroke-width="0.90"/><use href="#g103" x="-194.52" y="0.00" stroke-width="0.90"/><use href="#g121" x="-175.52" y="0.00" stroke-width="0.90"/><use href="#g116" x="-143.52" y="0.00" stroke-width="0.90"/><use href="#g114" x="-131.52" y="0.00" stroke-width="0.90"/><use href="#g97" x="-118.52" y="0.00" stroke-width="0.90"/><use href="#g110" x="-99.52" y="0.00" stroke-width="0.90"/><use href="#g115" x="-80.52" y="0.00" stroke-width="0.90"/><use href="#g102" x="-63.52" y="0.00" stroke-width="0.90"/><use href="#g101" x="-51.52" y="0.00" stroke-width="0.90"/><use href="#g114" x="-33.52" y="0.00" stroke-width="0.90"/><use href="#g91" transform="translate(-4.52,1.80) scale(1.000,1.130)" stroke-width="0.90"/><use href="#g101" x="9.48" y="0.00" stroke-width="0.90"/><use href="#g114" x="27.48" y="0.00" stroke-width="0.90"/><use href="#g103" x="40.48" y="0.00" stroke-width="0.90"/><use href="#g99" x="75.48" y="0.00" stroke-width="0.90"/><use href="#g109" x="93.48" y="0.00" stroke-width="0.90"/><use href="#g45" transform="translate(123.48,-16.00) scale(0.620)" stroke-width="2.58"/><use href="#g50" transform="translate(139.60,-16.00) scale(0.620)" stroke-width="2.58"/><use href="#g115" x="168.00" y="0.00" stroke-width="0.90"/><use href="#g101" x="185.00" y="0.00" stroke-width="0.90"/><use href="#g99" x="203.00" y="0.00" stroke-width="0.90"/><use href="#g45" transform="translate(221.00,-16.00) scale(0.620)" stroke-width="2.58"/><use href="#g49" transform="translate(237.12,-16.00) scale(0.620)" stroke-width="2.58"/><use href="#g93" transform="translate(249.52,1.80) scale(1.000,1.130)" stroke-width="0.90"/></g>
<g transform="translate(351.35,51.20) scale(0.4600,0.4400)" fill="#000" stroke="#000" stroke-linejoin="round"><use href="#g97" x="-2.00" y="0.00" stroke-width="0.90"/><use href="#g41" x="17.00" y="0.00" stroke-width="0.90"/></g>
<path d="M498.0,45.4 L528.2,41.2 L545.3,42.8 L557.4,48.8 L566.3,54.8 L574.0,60.5 L581.0,70.2 C582.6,72.2 584.1,74.3 586.1,75.9 C588.2,77.5 590.8,78.4 593.1,79.7 C595.2,80.9 597.6,81.8 599.4,83.5 C601.3,85.3 602.5,87.7 603.9,89.9 C605.5,92.4 607.0,94.9 608.3,97.5 C609.4,99.7 610.0,102.2 610.9,104.5 C611.8,107.0 612.9,109.5 613.7,112.1 C614.5,114.6 615.0,117.2 615.6,119.7 C616.2,122.3 616.9,124.8 617.5,127.4 C618.1,129.9 618.8,132.5 619.4,135.0 C620.0,137.5 620.8,140.0 621.3,142.6 C621.8,145.3 622.1,148.1 622.6,150.8 C623.0,153.1 623.6,155.4 623.9,157.8 C624.2,160.6 624.1,163.3 624.3,166.1 C624.4,168.6 624.7,171.2 624.8,173.7 C625.0,176.5 625.0,179.2 625.2,182.0 C625.3,184.5 625.6,187.0 625.7,189.5 C625.9,192.3 626.0,195.0 626.1,197.8 C626.2,200.3 626.2,202.9 626.3,205.4 C626.4,208.0 626.4,210.7 626.5,213.3 C626.6,215.9 626.6,218.4 626.7,221.0" fill="none" stroke="#FFAA00" stroke-width="1.45" stroke-linejoin="round" stroke-dasharray="7.5 8.22"/>
<path d="M629.3,188.7 C629.9,187.5 630.3,186.2 631.2,185.1 C631.7,184.5 633.1,184.6 633.3,183.8 C634.1,180.8 633.8,177.5 634.1,174.4 C634.4,171.4 634.9,168.4 635.3,165.4 C635.9,161.2 636.7,156.9 637.3,152.7 C638.0,147.9 638.4,143.0 639.2,138.2 C639.6,135.6 640.3,133.0 641.1,130.5 C641.8,128.1 642.2,125.5 643.6,123.5 C644.8,121.8 646.9,120.8 648.7,119.7 C651.2,118.1 653.7,116.6 656.3,115.3 C658.3,114.3 660.5,113.6 662.7,113.0 C664.8,112.5 667.0,112.7 669.1,112.0 C671.2,111.3 673.0,109.7 675.1,109.0 C676.5,108.5 678.0,108.3 679.5,108.4 C681.5,108.5 683.4,109.0 685.3,109.6 C687.9,110.4 690.3,111.7 692.9,112.6 C695.8,113.6 698.9,114.1 701.8,115.1 C704.8,116.1 707.8,117.2 710.7,118.5 C713.3,119.7 715.9,120.9 718.3,122.4 C720.5,123.7 722.8,125.1 724.7,126.8 C726.6,128.5 728.2,130.5 729.8,132.5 C731.4,134.5 732.8,136.7 734.2,138.9 C735.4,140.7 736.3,142.7 737.4,144.6 C738.5,146.5 739.5,148.4 740.6,150.3 C742.1,153.0 743.4,155.9 745.1,158.5 C746.4,160.5 747.7,162.6 749.5,164.3 C750.8,165.5 752.5,166.0 754.0,166.8" fill="none" stroke="#FFAA00" stroke-width="1.45" stroke-linejoin="round"/>
<path d="M498.0,227.5 L527.6,191.5 L535.2,188.7 L543.4,185.7 L549.2,181.2 L555.5,175.6 L561.9,173.3 L569.5,171.2 L576.5,168.6 L582.9,162.9 C585.0,161.1 586.9,159.2 589.2,157.8 C591.3,156.5 593.6,155.7 595.9,154.7 C598.2,153.7 600.5,152.6 602.9,151.8 C605.4,151.0 608.0,150.6 610.5,149.8 C613.1,149.0 615.6,147.8 618.2,147.0 C620.7,146.3 623.3,145.8 625.8,145.3 C628.3,144.8 630.9,144.4 633.4,143.8 C636.0,143.2 638.5,142.3 641.1,141.9 C643.8,141.5 646.6,141.6 649.3,141.5 C652.1,141.4 654.8,141.4 657.6,141.5 C659.9,141.6 662.3,141.4 664.6,141.9 C667.0,142.4 669.4,143.4 671.6,144.5 C674.1,145.7 676.3,147.3 678.6,148.9 C680.9,150.5 683.2,152.2 685.3,154.1 C687.1,155.7 689.0,157.2 690.4,159.2 C691.8,161.1 692.5,163.4 693.5,165.5 C694.6,168.0 695.9,170.5 696.7,173.2 C697.6,176.1 698.0,179.1 698.6,182.1 C699.1,184.4 699.6,186.6 699.9,188.9 C700.2,191.7 700.3,194.4 700.5,197.2 C700.7,199.7 701.0,202.3 701.2,204.8 C701.4,207.6 701.6,210.3 701.8,213.1 C702.0,215.6 702.3,218.2 702.4,220.7 C702.7,227.1 702.9,233.6 703.0,240.0 C703.2,251.0 703.3,262.0 703.5,273.0" fill="none" stroke="#1688FF" stroke-width="1.45" stroke-linejoin="round" stroke-dasharray="7.5 8.22"/>
<path d="M703.7,273.3 C703.6,258.7 703.4,244.2 703.5,229.6 C703.5,226.6 703.9,223.7 704.1,220.7 C704.4,216.5 704.6,212.2 705.0,208.0 C705.5,202.9 706.1,197.8 706.9,192.7 C707.6,188.4 708.6,184.2 709.4,180.0 C709.8,177.7 710.0,175.4 710.7,173.2 C711.7,169.7 712.9,166.3 714.5,163.0 C715.9,160.1 717.5,157.2 719.6,154.7 C721.4,152.5 723.5,150.4 726.0,149.0 C727.9,147.9 730.1,147.4 732.3,147.3 C734.0,147.2 735.9,147.6 737.4,148.4 C739.4,149.5 741.0,151.1 742.5,152.8 C744.4,155.0 745.7,157.6 747.6,159.8 C749.5,162.0 751.9,163.8 754.0,165.8" fill="none" stroke="#1688FF" stroke-width="1.45" stroke-linejoin="round"/>
<path d="M498.0,197.6 L528.2,185.3 L545.3,177.5 L557.4,170.5 L567.6,164.6 L577.8,158.8 L586.7,153.7 C589.5,152.3 592.5,151.5 595.3,150.2 C598.8,148.6 602.1,146.5 605.6,145.0 C609.7,143.3 614.0,142.0 618.2,140.5 C622.4,139.0 626.6,137.3 630.9,135.8 C635.1,134.3 639.3,132.9 643.6,131.7 C647.8,130.5 652.0,129.5 656.3,128.8 C660.5,128.1 664.8,127.5 669.1,127.4 C672.8,127.3 676.5,127.8 680.2,128.1 C683.2,128.4 686.2,128.5 689.1,129.1 C692.1,129.7 695.1,130.5 698.0,131.6 C701.1,132.7 704.0,134.2 706.9,135.7 C709.5,137.1 712.1,138.5 714.5,140.2 C717.6,142.3 720.6,144.6 723.4,147.1 C726.2,149.6 728.8,152.4 731.1,155.4 C733.4,158.4 735.5,161.6 737.4,164.9 C739.5,168.4 741.4,172.1 743.2,175.7 C744.7,178.6 746.0,181.6 747.4,184.6 C748.1,186.0 748.8,187.5 749.5,188.9 C750.9,191.9 752.3,194.8 753.7,197.8" fill="none" stroke="#FF0000" stroke-width="1.45" stroke-linejoin="round"/>
<path d="M498.0,120.4 L527.6,118.7 L545.4,118.3 L557.8,120.0 L567.4,118.6 L576.1,116.4 L580.0,115.9 C583.9,115.1 587.6,114.1 591.5,113.4 C594.0,112.9 596.5,112.6 599.0,112.3 C601.6,112.0 604.1,111.9 606.7,111.8 C609.3,111.7 611.8,111.8 614.4,111.8 C616.9,111.8 619.5,111.8 622.0,111.8 C624.8,111.7 627.5,111.7 630.3,111.5 C632.8,111.3 635.4,110.7 637.9,110.4 C640.7,110.1 643.4,110.0 646.2,109.9 C648.7,109.8 651.3,109.7 653.8,109.9 C656.4,110.1 658.9,110.7 661.4,111.2 C663.9,111.7 666.5,112.1 669.0,112.9 C671.5,113.7 674.0,114.8 676.4,116.0 C678.8,117.3 681.1,118.8 683.4,120.4 C685.6,121.9 687.7,123.5 689.7,125.3 C691.7,127.2 693.6,129.2 695.4,131.3 C697.0,133.0 698.5,134.8 699.9,136.7 C701.3,138.6 702.5,140.6 703.7,142.6 C705.2,145.1 706.9,147.6 708.2,150.3 C709.4,152.8 710.2,155.4 711.3,157.9 C712.3,160.3 713.7,162.5 714.5,164.9 C715.4,167.4 715.7,170.0 716.4,172.5 C717.0,174.8 717.8,177.1 718.3,179.5 C718.9,182.4 719.1,185.4 719.6,188.3 C720.0,190.6 720.6,192.9 720.9,195.3 C721.2,198.0 721.2,200.8 721.5,203.5 C721.7,206.1 722.2,208.6 722.4,211.2 C722.6,213.9 722.6,216.7 722.8,219.4 C723.0,221.7 723.3,224.1 723.4,226.4 C723.7,234.3 723.9,242.1 724.0,250.0 C724.2,260.7 724.2,271.3 724.3,282.0" fill="none" stroke="#00FF00" stroke-width="1.45" stroke-linejoin="round" stroke-dasharray="7.5 8.22"/>
<path d="M724.5,282.5 C724.4,279.9 724.3,277.2 724.3,274.6 C724.4,266.5 724.5,258.5 724.7,250.4 C724.9,241.9 725.3,233.5 725.6,225.0 C725.7,222.7 725.7,220.5 726.0,218.2 C726.5,213.9 727.1,209.6 727.9,205.4 C728.6,202.0 729.2,198.5 730.4,195.3 C731.1,193.4 732.1,191.5 733.6,190.2 C735.0,189.0 736.8,188.1 738.7,187.9 C740.4,187.7 742.1,188.6 743.8,189.2 C745.6,189.8 747.2,190.8 748.9,191.5 C750.5,192.2 752.1,192.8 753.7,193.4" fill="none" stroke="#00FF00" stroke-width="1.45" stroke-linejoin="round"/>
<path d="M498.0,249.5 L532.6,231.6 L546.6,224.5 L560.6,216.9 L574.0,209.0 L588.0,201.4 C594.9,197.5 601.7,193.3 608.6,189.4 C610.9,188.1 613.3,187.1 615.6,185.8 C620.1,183.3 624.5,180.5 629.0,177.9 C633.6,175.3 638.3,172.8 643.0,170.3 C647.7,167.7 652.3,165.2 657.0,162.6 C661.7,160.1 666.3,157.5 671.0,155.0 C673.2,153.8 675.4,152.7 677.6,151.5 C679.3,150.6 680.9,149.4 682.7,148.7 C685.8,147.5 689.1,146.7 692.3,145.8 C694.8,145.1 697.4,144.3 699.9,143.7 C702.4,143.1 704.9,142.4 707.5,142.0 C710.0,141.6 712.6,141.2 715.2,141.1 C717.7,141.0 720.3,141.1 722.8,141.6 C725.4,142.1 727.9,143.2 730.4,144.2 C733.0,145.2 735.6,146.4 738.1,147.7 C740.1,148.8 742.1,150.0 743.8,151.5 C745.9,153.2 747.3,155.7 749.5,157.3 C750.8,158.3 752.5,158.6 754.0,159.2" fill="none" stroke="#5500AA" stroke-width="1.45" stroke-linejoin="round" stroke-dasharray="7.5 8.22"/>
<path d="M720.0,338.0 C720.0,325.3 720.1,312.7 720.1,300.0 C720.1,295.0 720.1,290.0 720.1,285.0 C720.1,281.5 719.8,278.1 719.9,274.6 C720.0,272.1 720.4,269.5 720.6,267.0 C720.8,264.2 721.1,261.5 721.3,258.7 C721.5,256.4 721.6,254.0 721.9,251.7 C722.3,248.7 722.9,245.8 723.4,242.8 C723.8,240.5 724.2,238.1 724.7,235.8 C725.3,233.1 725.5,230.2 726.6,227.7 C727.6,225.4 729.3,223.4 731.1,221.7 C733.1,219.8 735.7,218.5 738.1,217.2 C740.3,216.0 742.8,215.1 745.1,214.1 C748.0,212.8 750.8,211.5 753.7,210.2" fill="none" stroke="#000000" stroke-width="1.45" stroke-linejoin="round" stroke-dasharray="7.5 8.22"/>
<path d="M498.0,39.4 L528.2,40.6 L545.3,41.8 L557.4,47.6 L566.3,53.6 L575.2,60.0 L582.9,68.9 C585.3,71.5 587.7,74.2 590.5,76.5 C592.9,78.5 595.7,79.9 598.2,81.6 C600.3,83.1 602.7,84.3 604.5,86.1 C607.0,88.6 608.8,91.6 610.9,94.4 C613.1,97.3 615.0,100.5 617.3,103.3 C618.3,104.5 619.5,105.4 620.7,106.4 C623.2,108.4 625.7,110.3 628.3,112.1 C630.8,113.9 633.7,115.2 636.0,117.2 C638.8,119.6 640.9,122.9 643.6,125.4 C645.9,127.6 648.5,129.4 651.2,131.2 C653.7,132.8 656.3,134.2 658.9,135.6 C661.4,136.9 664.3,137.6 666.5,139.4 C668.6,141.1 670.1,143.5 671.6,145.7 C673.4,148.4 674.4,151.6 676.4,154.1 C678.6,156.9 681.7,159.0 684.0,161.7 C686.8,164.9 689.1,168.5 691.6,171.9 C693.6,174.6 695.5,177.2 697.4,180.0 C699.4,182.9 701.4,185.8 703.1,188.9 C705.0,192.2 706.7,195.6 708.2,199.1 C709.9,203.2 711.4,207.5 712.6,211.8 C713.7,215.6 714.6,219.4 715.2,223.3 C716.3,230.2 717.0,237.1 717.7,244.1 C718.3,250.5 718.7,256.8 719.0,263.2 C719.3,268.8 719.4,274.4 719.6,280.0 C719.8,286.5 719.9,293.0 720.0,299.5" fill="none" stroke="#000000" stroke-width="1.45" stroke-linejoin="round"/>
<rect x="476.75" y="12.90" width="297.45" height="324.55" fill="none" stroke="#000" stroke-width="1.40"/>
<path d="M506.60,337.45v-3.10M506.60,12.90v3.10M524.06,337.45v-3.10M524.06,12.90v3.10M536.44,337.45v-3.10M536.44,12.90v3.10M546.05,337.45v-3.10M546.05,12.90v3.10M553.90,337.45v-3.10M553.90,12.90v3.10M560.54,337.45v-3.10M560.54,12.90v3.10M566.29,337.45v-3.10M566.29,12.90v3.10M571.36,337.45v-3.10M571.36,12.90v3.10M575.90,337.45v-6.20M575.90,12.90v6.20M605.75,337.45v-3.10M605.75,12.90v3.10M623.21,337.45v-3.10M623.21,12.90v3.10M635.59,337.45v-3.10M635.59,12.90v3.10M645.20,337.45v-3.10M645.20,12.90v3.10M653.05,337.45v-3.10M653.05,12.90v3.10M659.69,337.45v-3.10M659.69,12.90v3.10M665.44,337.45v-3.10M665.44,12.90v3.10M670.51,337.45v-3.10M670.51,12.90v3.10M675.05,337.45v-6.20M675.05,12.90v6.20M704.90,337.45v-3.10M704.90,12.90v3.10M722.36,337.45v-3.10M722.36,12.90v3.10M734.74,337.45v-3.10M734.74,12.90v3.10M744.35,337.45v-3.10M744.35,12.90v3.10M752.20,337.45v-3.10M752.20,12.90v3.10M758.84,337.45v-3.10M758.84,12.90v3.10M764.59,337.45v-3.10M764.59,12.90v3.10M769.66,337.45v-3.10M769.66,12.90v3.10M476.75,321.17h3.10M774.20,321.17h-3.10M476.75,311.64h3.10M774.20,311.64h-3.10M476.75,304.88h3.10M774.20,304.88h-3.10M476.75,299.64h3.10M774.20,299.64h-3.10M476.75,295.36h3.10M774.20,295.36h-3.10M476.75,291.74h3.10M774.20,291.74h-3.10M476.75,288.60h3.10M774.20,288.60h-3.10M476.75,285.83h3.10M774.20,285.83h-3.10M476.75,283.36h6.20M774.20,283.36h-6.20M476.75,267.08h3.10M774.20,267.08h-3.10M476.75,257.55h3.10M774.20,257.55h-3.10M476.75,250.79h3.10M774.20,250.79h-3.10M476.75,245.55h3.10M774.20,245.55h-3.10M476.75,241.27h3.10M774.20,241.27h-3.10M476.75,237.65h3.10M774.20,237.65h-3.10M476.75,234.51h3.10M774.20,234.51h-3.10M476.75,231.74h3.10M774.20,231.74h-3.10M476.75,229.27h6.20M774.20,229.27h-6.20M476.75,212.98h3.10M774.20,212.98h-3.10M476.75,203.46h3.10M774.20,203.46h-3.10M476.75,196.70h3.10M774.20,196.70h-3.10M476.75,191.46h3.10M774.20,191.46h-3.10M476.75,187.18h3.10M774.20,187.18h-3.10M476.75,183.55h3.10M774.20,183.55h-3.10M476.75,180.42h3.10M774.20,180.42h-3.10M476.75,177.65h3.10M774.20,177.65h-3.10M476.75,175.17h6.20M774.20,175.17h-6.20M476.75,158.89h3.10M774.20,158.89h-3.10M476.75,149.37h3.10M774.20,149.37h-3.10M476.75,142.61h3.10M774.20,142.61h-3.10M476.75,137.37h3.10M774.20,137.37h-3.10M476.75,133.08h3.10M774.20,133.08h-3.10M476.75,129.46h3.10M774.20,129.46h-3.10M476.75,126.33h3.10M774.20,126.33h-3.10M476.75,123.56h3.10M774.20,123.56h-3.10M476.75,121.08h6.20M774.20,121.08h-6.20M476.75,104.80h3.10M774.20,104.80h-3.10M476.75,95.28h3.10M774.20,95.28h-3.10M476.75,88.52h3.10M774.20,88.52h-3.10M476.75,83.27h3.10M774.20,83.27h-3.10M476.75,78.99h3.10M774.20,78.99h-3.10M476.75,75.37h3.10M774.20,75.37h-3.10M476.75,72.23h3.10M774.20,72.23h-3.10M476.75,69.47h3.10M774.20,69.47h-3.10M476.75,66.99h6.20M774.20,66.99h-6.20M476.75,50.71h3.10M774.20,50.71h-3.10M476.75,41.18h3.10M774.20,41.18h-3.10M476.75,34.43h3.10M774.20,34.43h-3.10M476.75,29.18h3.10M774.20,29.18h-3.10M476.75,24.90h3.10M774.20,24.90h-3.10M476.75,21.28h3.10M774.20,21.28h-3.10M476.75,18.14h3.10M774.20,18.14h-3.10M476.75,15.38h3.10M774.20,15.38h-3.10" stroke="#000" stroke-width="1.3" fill="none"/>
<g transform="translate(476.75,358.30) scale(0.4600,0.4400)" fill="#000" stroke="#000" stroke-linejoin="round"><use href="#g48" x="-24.50" y="0.00" stroke-width="0.90"/><use href="#g46" x="-5.50" y="0.00" stroke-width="0.90"/><use href="#g49" x="4.50" y="0.00" stroke-width="0.90"/></g>
<g transform="translate(575.90,358.30) scale(0.4600,0.4400)" fill="#000" stroke="#000" stroke-linejoin="round"><use href="#g49" x="-24.50" y="0.00" stroke-width="0.90"/><use href="#g46" x="-5.50" y="0.00" stroke-width="0.90"/><use href="#g48" x="4.50" y="0.00" stroke-width="0.90"/></g>
<g transform="translate(675.05,358.30) scale(0.4600,0.4400)" fill="#000" stroke="#000" stroke-linejoin="round"><use href="#g49" x="-34.50" y="0.00" stroke-width="0.90"/><use href="#g48" x="-14.50" y="0.00" stroke-width="0.90"/><use href="#g46" x="4.50" y="0.00" stroke-width="0.90"/><use href="#g48" x="14.50" y="0.00" stroke-width="0.90"/></g>
<g transform="translate(774.20,358.30) scale(0.4600,0.4400)" fill="#000" stroke="#000" stroke-linejoin="round"><use href="#g49" x="-44.50" y="0.00" stroke-width="0.90"/><use href="#g48" x="-24.50" y="0.00" stroke-width="0.90"/><use href="#g48" x="-4.50" y="0.00" stroke-width="0.90"/><use href="#g46" x="14.50" y="0.00" stroke-width="0.90"/><use href="#g48" x="24.50" y="0.00" stroke-width="0.90"/></g>
<g transform="translate(471.40,337.25) scale(0.4600,0.4400)" fill="#000" stroke="#000" stroke-linejoin="round"><use href="#g49" x="-51.78" y="0.00" stroke-width="0.90"/><use href="#g48" x="-31.78" y="0.00" stroke-width="0.90"/><use href="#g52" transform="translate(-11.78,-16.00) scale(0.620)" stroke-width="2.58"/></g>
<g transform="translate(471.40,288.76) scale(0.4600,0.4400)" fill="#000" stroke="#000" stroke-linejoin="round"><use href="#g49" x="-51.16" y="0.00" stroke-width="0.90"/><use href="#g48" x="-31.16" y="0.00" stroke-width="0.90"/><use href="#g53" transform="translate(-11.16,-16.00) scale(0.620)" stroke-width="2.58"/></g>
<g transform="translate(471.40,234.67) scale(0.4600,0.4400)" fill="#000" stroke="#000" stroke-linejoin="round"><use href="#g49" x="-51.16" y="0.00" stroke-width="0.90"/><use href="#g48" x="-31.16" y="0.00" stroke-width="0.90"/><use href="#g54" transform="translate(-11.16,-16.00) scale(0.620)" stroke-width="2.58"/></g>
<g transform="translate(471.40,180.57) scale(0.4600,0.4400)" fill="#000" stroke="#000" stroke-linejoin="round"><use href="#g49" x="-51.16" y="0.00" stroke-width="0.90"/><use href="#g48" x="-31.16" y="0.00" stroke-width="0.90"/><use href="#g55" transform="translate(-11.16,-16.00) scale(0.620)" stroke-width="2.58"/></g>
<g transform="translate(471.40,126.48) scale(0.4600,0.4400)" fill="#000" stroke="#000" stroke-linejoin="round"><use href="#g49" x="-51.16" y="0.00" stroke-width="0.90"/><use href="#g48" x="-31.16" y="0.00" stroke-width="0.90"/><use href="#g56" transform="translate(-11.16,-16.00) scale(0.620)" stroke-width="2.58"/></g>
<g transform="translate(471.40,72.39) scale(0.4600,0.4400)" fill="#000" stroke="#000" stroke-linejoin="round"><use href="#g49" x="-50.54" y="0.00" stroke-width="0.90"/><use href="#g48" x="-30.54" y="0.00" stroke-width="0.90"/><use href="#g57" transform="translate(-10.54,-16.00) scale(0.620)" stroke-width="2.58"/></g>
<g transform="translate(471.40,22.70) scale(0.4600,0.4400)" fill="#000" stroke="#000" stroke-linejoin="round"><use href="#g49" x="-63.56" y="0.00" stroke-width="0.90"/><use href="#g48" x="-43.56" y="0.00" stroke-width="0.90"/><use href="#g49" transform="translate(-23.56,-16.00) scale(0.620)" stroke-width="2.58"/><use href="#g48" transform="translate(-11.16,-16.00) scale(0.620)" stroke-width="2.58"/></g>
<g transform="translate(625.48,376.20) scale(0.4600,0.4400)" fill="#000" stroke="#000" stroke-linejoin="round"><use href="#g102" x="-69.26" y="0.00" stroke-width="0.90"/><use href="#g91" transform="translate(-41.26,1.80) scale(1.000,1.130)" stroke-width="0.90"/><use href="#g77" x="-27.26" y="0.00" stroke-width="0.90"/><use href="#g109" x="-3.26" y="0.00" stroke-width="0.90"/><use href="#g45" transform="translate(26.74,-16.00) scale(0.620)" stroke-width="2.58"/><use href="#g49" transform="translate(42.86,-16.00) scale(0.620)" stroke-width="2.58"/><use href="#g93" transform="translate(55.26,1.80) scale(1.000,1.130)" stroke-width="0.90"/></g>
<g transform="translate(429.55,175.97) rotate(-90) scale(0.4610,0.4400)" fill="#000" stroke="#000" stroke-linejoin="round"><use href="#g69" x="-263.52" y="0.00" stroke-width="0.90"/><use href="#g110" x="-244.52" y="0.00" stroke-width="0.90"/><use href="#g101" x="-225.52" y="0.00" stroke-width="0.90"/><use href="#g114" x="-207.52" y="0.00" stroke-width="0.90"/><use href="#g103" x="-194.52" y="0.00" stroke-width="0.90"/><use href="#g121" x="-175.52" y="0.00" stroke-width="0.90"/><use href="#g116" x="-143.52" y="0.00" stroke-width="0.90"/><use href="#g114" x="-131.52" y="0.00" stroke-width="0.90"/><use href="#g97" x="-118.52" y="0.00" stroke-width="0.90"/><use href="#g110" x="-99.52" y="0.00" stroke-width="0.90"/><use href="#g115" x="-80.52" y="0.00" stroke-width="0.90"/><use href="#g102" x="-63.52" y="0.00" stroke-width="0.90"/><use href="#g101" x="-51.52" y="0.00" stroke-width="0.90"/><use href="#g114" x="-33.52" y="0.00" stroke-width="0.90"/><use href="#g91" transform="translate(-4.52,1.80) scale(1.000,1.130)" stroke-width="0.90"/><use href="#g101" x="9.48" y="0.00" stroke-width="0.90"/><use href="#g114" x="27.48" y="0.00" stroke-width="0.90"/><use href="#g103" x="40.48" y="0.00" stroke-width="0.90"/><use href="#g99" x="75.48" y="0.00" stroke-width="0.90"/><use href="#g109" x="93.48" y="0.00" stroke-width="0.90"/><use href="#g45" transform="translate(123.48,-16.00) scale(0.620)" stroke-width="2.58"/><use href="#g50" transform="translate(139.60,-16.00) scale(0.620)" stroke-width="2.58"/><use href="#g115" x="168.00" y="0.00" stroke-width="0.90"/><use href="#g101" x="185.00" y="0.00" stroke-width="0.90"/><use href="#g99" x="203.00" y="0.00" stroke-width="0.90"/><use href="#g45" transform="translate(221.00,-16.00) scale(0.620)" stroke-width="2.58"/><use href="#g49" transform="translate(237.12,-16.00) scale(0.620)" stroke-width="2.58"/><use href="#g93" transform="translate(249.52,1.80) scale(1.000,1.130)" stroke-width="0.90"/></g>
<g transform="translate(745.05,51.20) scale(0.4600,0.4400)" fill="#000" stroke="#000" stroke-linejoin="round"><use href="#g98" x="-3.00" y="0.00" stroke-width="0.90"/><use href="#g41" x="16.00" y="0.00" stroke-width="0.90"/></g>
<g transform="translate(494.40,284.10) scale(0.3710,0.3750)" fill="#000000" stroke="#000000" stroke-linejoin="round"><use href="#g84" x="0.00" y="0.00" stroke-width="1.90"/><use href="#g75" transform="translate(16.00,7.00) scale(0.620)" stroke-width="4.35"/><use href="#g80" transform="translate(29.02,7.00) scale(0.620)" stroke-width="4.35"/></g>
<g transform="translate(584.00,284.10) scale(0.3710,0.3750)" fill="#FFAA00" stroke="#FFAA00" stroke-linejoin="round"><use href="#g84" x="0.00" y="0.00" stroke-width="1.90"/><use href="#g75" transform="translate(16.00,7.00) scale(0.620)" stroke-width="4.35"/><use href="#g65" transform="translate(29.02,7.00) scale(0.620)" stroke-width="4.35"/></g>
<g transform="translate(673.00,284.10) scale(0.3710,0.3750)" fill="#00FF00" stroke="#00FF00" stroke-linejoin="round"><use href="#g84" x="0.00" y="0.00" stroke-width="1.90"/><use href="#g75" transform="translate(16.00,7.00) scale(0.620)" stroke-width="4.35"/><use href="#g76" transform="translate(29.02,7.00) scale(0.620)" stroke-width="4.35"/></g>
<g transform="translate(494.40,312.10) scale(0.3710,0.3750)" fill="#FF0000" stroke="#FF0000" stroke-linejoin="round"><use href="#g84" x="0.00" y="0.00" stroke-width="1.90"/><use href="#g77" transform="translate(16.00,7.00) scale(0.620)" stroke-width="4.35"/><use href="#g83" transform="translate(30.88,7.00) scale(0.620)" stroke-width="4.35"/><use href="#g43" x="43.28" y="0.00" stroke-width="1.90"/><use href="#g48" x="69.28" y="0.00" stroke-width="1.90"/><use href="#g46" x="88.28" y="0.00" stroke-width="1.90"/><use href="#g53" x="98.28" y="0.00" stroke-width="1.90"/><use href="#g42" x="118.28" y="0.00" stroke-width="1.90"/><use href="#g84" x="134.28" y="0.00" stroke-width="1.90"/><use href="#g77" transform="translate(150.28,7.00) scale(0.620)" stroke-width="4.35"/><use href="#g67" transform="translate(165.16,7.00) scale(0.620)" stroke-width="4.35"/></g>
<g transform="translate(584.00,312.10) scale(0.3710,0.3750)" fill="#1688FF" stroke="#1688FF" stroke-linejoin="round"><use href="#g84" x="0.00" y="0.00" stroke-width="1.90"/><use href="#g77" transform="translate(16.00,7.00) scale(0.620)" stroke-width="4.35"/><use href="#g65" transform="translate(30.88,7.00) scale(0.620)" stroke-width="4.35"/><use href="#g43" x="42.04" y="0.00" stroke-width="1.90"/><use href="#g48" x="68.04" y="0.00" stroke-width="1.90"/><use href="#g46" x="87.04" y="0.00" stroke-width="1.90"/><use href="#g53" x="97.04" y="0.00" stroke-width="1.90"/><use href="#g42" x="117.04" y="0.00" stroke-width="1.90"/><use href="#g84" x="133.04" y="0.00" stroke-width="1.90"/><use href="#g77" transform="translate(149.04,7.00) scale(0.620)" stroke-width="4.35"/><use href="#g67" transform="translate(163.92,7.00) scale(0.620)" stroke-width="4.35"/></g>
<g transform="translate(673.00,312.10) scale(0.3710,0.3750)" fill="#5500AA" stroke="#5500AA" stroke-linejoin="round"><use href="#g84" x="0.00" y="0.00" stroke-width="1.90"/><use href="#g77" transform="translate(16.00,7.00) scale(0.620)" stroke-width="4.35"/><use href="#g68" transform="translate(30.88,7.00) scale(0.620)" stroke-width="4.35"/></g></svg></body></html>
